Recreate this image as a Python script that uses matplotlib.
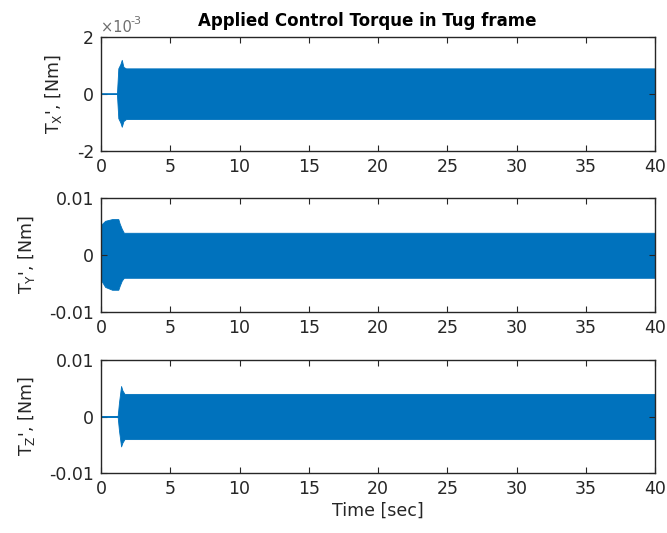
import matplotlib
matplotlib.use("Agg")
import matplotlib.pyplot as plt
from matplotlib.ticker import FixedLocator, FixedFormatter

plt.rcParams['font.family'] = ['DejaVu Sans']
plt.rcParams['axes.unicode_minus'] = False
plt.rcParams['mathtext.fontset'] = 'dejavusans'

# Envelope of the oscillating control torque (time in s, torque in Nm)
tx_time = [0.0, 1.15, 1.25, 1.40, 1.50, 1.62, 1.80, 40.0]
tx_upper = [0.0, 0.0, 0.90e-3, 1.05e-3, 1.20e-3, 0.95e-3, 0.90e-3, 0.90e-3]
tx_lower = [0.0, 0.0, -0.85e-3, -1.00e-3, -1.15e-3, -0.95e-3, -0.88e-3, -0.88e-3]

ty_time = [0.0, 0.30, 0.80, 1.25, 1.35, 1.50, 1.65, 40.0]
ty_upper = [5.3e-3, 6.0e-3, 6.3e-3, 6.3e-3, 5.5e-3, 4.6e-3, 3.9e-3, 3.9e-3]
ty_lower = [-4.4e-3, -5.6e-3, -6.1e-3, -6.1e-3, -5.4e-3, -4.5e-3, -4.0e-3, -4.0e-3]

tz_time = [0.0, 1.20, 1.30, 1.45, 1.55, 1.70, 2.00, 40.0]
tz_upper = [0.0, 0.0, 2.5e-3, 5.4e-3, 4.6e-3, 4.0e-3, 4.0e-3, 4.0e-3]
tz_lower = [0.0, 0.0, -2.5e-3, -5.3e-3, -4.6e-3, -4.0e-3, -4.0e-3, -4.0e-3]

# Segments before the controller kicks in (flat at zero)
tx_idle = [0.0, 1.15]
tz_idle = [0.0, 1.20]

x_ticks = [0, 5, 10, 15, 20, 25, 30, 35, 40]
tx_ticks = [-2e-3, 0, 2e-3]
tx_tick_labels = ['-2', '0', '2']
tyz_ticks = [-0.01, 0, 0.01]
tyz_tick_labels = ['-0.01', '0', '0.01']

blue = '#0072BD'
axis_col = '#262626'
fs = 12.5

fig = plt.figure(figsize=(6.67, 5.33), dpi=100)
W, H = 667, 533
left, right = 101, 655
rows = [(37, 151), (198, 312), (360, 473)]
axes = []
for top, bot in rows:
    ax = fig.add_axes([left / W, 1 - bot / H, (right - left) / W, (bot - top) / H])
    axes.append(ax)

series = [
    (tx_time, tx_upper, tx_lower, tx_idle, (-2e-3, 2e-3), tx_ticks, tx_tick_labels,
     "T$_\\mathrm{X}$', [Nm]"),
    (ty_time, ty_upper, ty_lower, None, (-0.01, 0.01), tyz_ticks, tyz_tick_labels,
     "T$_\\mathrm{Y}$', [Nm]"),
    (tz_time, tz_upper, tz_lower, tz_idle, (-0.01, 0.01), tyz_ticks, tyz_tick_labels,
     "T$_\\mathrm{Z}$', [Nm]"),
]

for ax, (t, up, lo, idle, ylim, yt, ytl, lab) in zip(axes, series):
    ax.fill_between(t, lo, up, color=blue, linewidth=0.6, edgecolor=blue)
    if idle is not None:
        ax.plot(idle, [0, 0], color=blue, linewidth=1.2)
    ax.set_xlim(0, 40)
    ax.set_ylim(*ylim)
    ax.xaxis.set_major_locator(FixedLocator(x_ticks))
    ax.yaxis.set_major_locator(FixedLocator(yt))
    ax.yaxis.set_major_formatter(FixedFormatter(ytl))
    ax.tick_params(direction='in', length=4, width=0.8, colors=axis_col,
                   labelsize=fs, top=True, right=True, pad=5)
    for sp in ax.spines.values():
        sp.set_color(axis_col)
        sp.set_linewidth(1.0)
    ax.set_ylabel(lab, fontsize=fs, color=axis_col, labelpad=9)

# x10^-3 multiplier for the X-axis torque
axes[0].text(0.0, 1.02, '\u00d710', transform=axes[0].transAxes, fontsize=10.5,
             color='#6e6e6e', ha='left', va='bottom')
axes[0].text(0.054, 1.10, '-3', transform=axes[0].transAxes, fontsize=8,
             color='#6e6e6e', ha='left', va='bottom')

axes[0].set_title('Applied Control Torque in Tug frame', fontsize=12,
                  fontweight='bold', color='black', pad=8, x=0.48)
axes[2].set_xlabel('Time [sec]', fontsize=fs, color=axis_col, labelpad=3)

fig.savefig('out.png', dpi=100, facecolor='white')
